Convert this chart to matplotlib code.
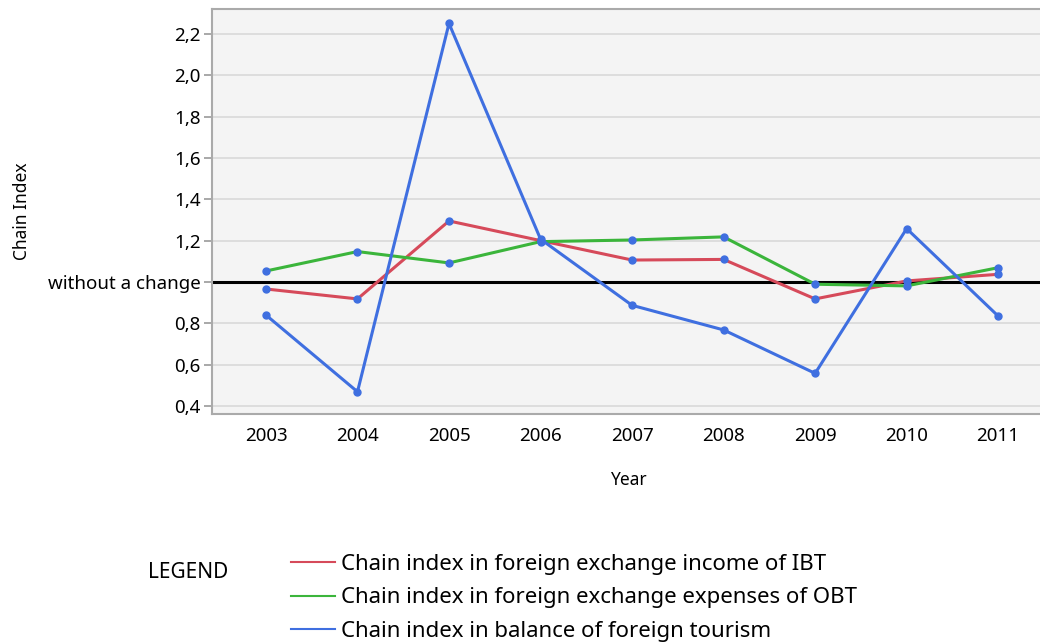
import numpy as np
import matplotlib.pyplot as plt
from matplotlib.lines import Line2D

#%% data

years = [2003, 2004, 2005, 2006, 2007, 2008, 2009, 2010, 2011]
income_ibt = [0.966, 0.918, 1.295, 1.200, 1.106, 1.109, 0.918, 1.005, 1.037]
expenses_obt = [1.053, 1.147, 1.092, 1.195, 1.203, 1.218, 0.989, 0.981, 1.069]
balance = [0.840, 0.469, 2.250, 1.207, 0.887, 0.768, 0.558, 1.258, 0.835]

labels = ["Chain index in foreign exchange income of IBT",
          "Chain index in foreign exchange expenses of OBT",
          "Chain index in balance of foreign tourism"]
colors = ["#d64a5a", "#3bb53b", "#3f6fe0"]
marker_color = "#3f6fe0"

yticks = [0.4, 0.6, 0.8, 1.0, 1.2, 1.4, 1.6, 1.8, 2.0, 2.2]
ytick_labels = ["0,4", "0,6", "0,8", "without a change", "1,2", "1,4", "1,6", "1,8", "2,0", "2,2"]

#%% plot

plt.rcParams['font.family'] = ['Noto Sans', 'DejaVu Sans']

fig = plt.figure(figsize=(10.4, 6.43), dpi=100)
ax = fig.add_axes([0.2038, 0.356, 0.80, 0.630])
ax.set_facecolor("#f4f4f4")

for v in yticks:
    if v != 1.0:
        ax.axhline(v, color="#d9d9d9", lw=1.2, zorder=1)
ax.axhline(1.0, color="black", lw=2.2, zorder=2)

for series, c in zip([income_ibt, expenses_obt, balance], colors):
    ax.plot(years, series, color=c, lw=2.2, zorder=3)
for series in [income_ibt, expenses_obt, balance]:
    ax.plot(years, series, 'o', color=marker_color, ms=5, zorder=4)

ax.set_xlim(2002.41, 2011.5)
ax.set_ylim(0.361, 2.32)
ax.set_xticks(years)
ax.set_yticks(yticks)
ax.set_yticklabels(ytick_labels)
ax.tick_params(axis='both', labelsize=13.5, colors='#999999', labelcolor='black')
ax.tick_params(axis='x', length=0, pad=9)
ax.tick_params(axis='y', length=6, width=1.2, pad=2)
for s in ax.spines.values():
    s.set_color("#aaaaaa")
    s.set_linewidth(1.5)

ax.set_ylabel("Chain Index", fontsize=12.5)
ax.yaxis.set_label_coords(-0.218, 0.5)
ax.set_xlabel("Year", fontsize=12.5, labelpad=19)

#%% legend

fig.text(148 / 1040, 1 - 572 / 643, "LEGEND", fontsize=15, va='center', ha='left')
handles = [Line2D([], [], color=c, lw=1.5) for c in colors]
fig.legend(handles, labels, loc='upper left', bbox_to_anchor=(282 / 1040, 1 - 545 / 643),
           frameon=False, fontsize=16, handlelength=2.0, handletextpad=0.25,
           labelspacing=0.56, borderaxespad=0)

fig.savefig("out.png", dpi=100)
